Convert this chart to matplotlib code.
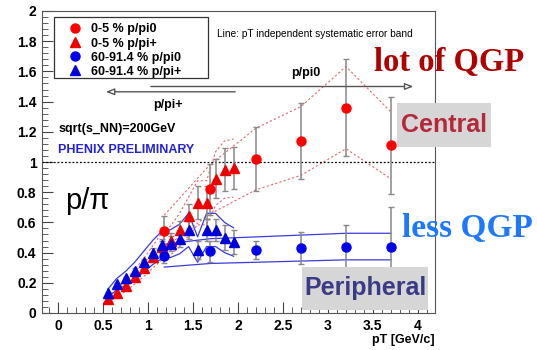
import numpy as np
import matplotlib
matplotlib.use("Agg")
import matplotlib.pyplot as plt
from matplotlib.patches import Rectangle
from matplotlib.ticker import MultipleLocator

plt.rcParams['font.family'] = ['Liberation Sans', 'DejaVu Sans']

# p/pi+ (triangles)
pt_tri = [0.55, 0.65, 0.75, 0.85, 0.95, 1.05, 1.15, 1.25, 1.35, 1.45, 1.55, 1.65, 1.75, 1.85, 1.95]
cen_tri = [0.09, 0.13, 0.18, 0.24, 0.30, 0.37, 0.44, 0.48, 0.55, 0.64, 0.73, 0.73, 0.89, 0.95, 0.96]
cen_tri_err = [0.01, 0.01, 0.01, 0.02, 0.02, 0.03, 0.04, 0.05, 0.06, 0.08, 0.11, 0.11, 0.13, 0.14, 0.14]
per_tri = [0.13, 0.19, 0.23, 0.28, 0.34, 0.40, 0.45, 0.46, 0.49, 0.55, 0.42, 0.55, 0.55, 0.50, 0.47]
per_tri_err = [0.01, 0.01, 0.01, 0.02, 0.02, 0.03, 0.04, 0.05, 0.05, 0.06, 0.06, 0.07, 0.07, 0.08, 0.08]

# p/pi0 (circles)
pt_cir = [1.18, 1.69, 2.2, 2.7, 3.2, 3.7]
cen_cir = [0.54, 0.82, 1.02, 1.14, 1.36, 1.11]
cen_cir_err = [0.10, 0.17, 0.21, 0.25, 0.32, 0.32]
per_cir = [0.38, 0.41, 0.42, 0.43, 0.44, 0.44]
per_cir_err = [0.05, 0.07, 0.06, 0.105, 0.14, 0.26]

x_ticks = [0, 0.5, 1, 1.5, 2, 2.5, 3, 3.5, 4]
y_ticks = [0, 0.2, 0.4, 0.6, 0.8, 1, 1.2, 1.4, 1.6, 1.8, 2]

sys_frac = 0.2  # pT independent systematic error

fig = plt.figure(figsize=(5.37, 3.5), dpi=100)
ax = fig.add_axes([42 / 537, 1 - 313 / 350, 393 / 537, 302 / 350])

# systematic bands
for x, y in [(pt_tri, cen_tri), (pt_cir, cen_cir)]:
    y = np.array(y)
    ax.plot(x, y * (1 + sys_frac), color="#e8646e", ls=(0, (2, 2)), lw=0.8)
    ax.plot(x, y * (1 - sys_frac), color="#e8646e", ls=(0, (2, 2)), lw=0.8)
for x, y in [(pt_tri, per_tri), (pt_cir, per_cir)]:
    y = np.array(y)
    ax.plot(x, y * (1 + sys_frac), color="#3b3bdd", lw=0.9)
    ax.plot(x, y * (1 - sys_frac), color="#3b3bdd", lw=0.9)

ax.axhline(1, color="k", ls=(0, (1.5, 1.5)), lw=0.9)

# error bars
for x, y, e in [(pt_tri, per_tri, per_tri_err), (pt_tri, cen_tri, cen_tri_err),
                (pt_cir, per_cir, per_cir_err), (pt_cir, cen_cir, cen_cir_err)]:
    ax.errorbar(x, y, yerr=e, fmt="none", ecolor="#888888", elinewidth=1.1, capsize=2.5)

ax.plot(pt_cir, cen_cir, "o", color="#ff0000", ms=6.5, label="0-5 % p/pi0")
ax.plot(pt_tri, cen_tri, "^", color="#ee0000", ms=6.5, label="0-5 % p/pi+")
ax.plot(pt_cir, per_cir, "o", color="#0000ee", ms=6.5, label="60-91.4 % p/pi0")
ax.plot(pt_tri, per_tri, "^", color="#0000dd", ms=6.5, label="60-91.4 % p/pi+")

ax.set_xlim(-0.18, 4.19)
ax.set_ylim(0, 2)
ax.set_xticks(x_ticks, [f"{v:g}" for v in x_ticks], fontweight="bold")
ax.set_yticks(y_ticks, [f"{v:g}" for v in y_ticks], fontweight="bold")
ax.xaxis.set_minor_locator(MultipleLocator(0.1))
ax.yaxis.set_minor_locator(MultipleLocator(0.04))
ax.tick_params(which="both", direction="in", color="#444444", labelsize=10, pad=4)
ax.tick_params(which="major", length=8)
ax.tick_params(which="minor", length=4)
for s in ax.spines.values():
    s.set_color("#555555")

# legend with its own frame box
ax.add_patch(Rectangle((0.0305, 0.778), 0.392, 0.202, transform=ax.transAxes,
                       fc="white", ec="#333333", lw=0.9, zorder=4))
leg = ax.legend(loc="upper left", bbox_to_anchor=(0.035, 0.99), frameon=False,
                handletextpad=0.5, labelspacing=0.17, borderpad=0.25, handlelength=1.6,
                prop={"weight": "bold", "size": 9})
leg.set_zorder(5)

ax.text(1.77, 1.85, "Line: pT independent systematic error band", fontsize=7.3, va="center")
ax.annotate("", xy=(3.98, 1.50), xytext=(1.0, 1.50),
            arrowprops=dict(arrowstyle="-|>,head_length=0.5,head_width=0.2", color="#555555",
                            fc="white", lw=1))
ax.annotate("", xy=(0.5, 1.465), xytext=(2.0, 1.465),
            arrowprops=dict(arrowstyle="-|>,head_length=0.5,head_width=0.2", color="#555555",
                            fc="white", lw=1))
ax.text(2.75, 1.59, "p/pi0", fontsize=9, fontweight="bold", ha="center", va="center")
ax.text(1.22, 1.38, "p/pi+", fontsize=9, fontweight="bold", ha="center", va="center")
ax.text(0.0, 1.22, "sqrt(s_NN)=200GeV", fontsize=9, fontweight="bold", va="center")
ax.text(0.0, 1.08, "PHENIX PRELIMINARY", fontsize=9, fontweight="bold", va="center", color="#2222dd")
ax.text(0.08, 0.74, "p/π", fontsize=21, va="center")
ax.text(4.19, -0.18, "pT [GeV/c]", fontsize=9, fontweight="bold", ha="right", va="center")

# annotations outside the frame
fig.patches.append(Rectangle((397 / 537, 1 - 147 / 350), 94 / 537, 44 / 350,
                             transform=fig.transFigure, fc="#d6d6d6", ec="none", zorder=3))
fig.patches.append(Rectangle((302 / 537, 1 - 310 / 350), 126 / 537, 43 / 350,
                             transform=fig.transFigure, fc="#d6d6d6", ec="none", zorder=3))
fig.text(444 / 537, 1 - 125 / 350, "Central", fontsize=18, fontweight="bold", color="#b3293a",
         ha="center", va="center", zorder=4)
fig.text(365 / 537, 1 - 288 / 350, "Peripheral", fontsize=18, fontweight="bold", color="#3b3b85",
         ha="center", va="center", zorder=4)
fig.text(449 / 537, 1 - 63 / 350, "lot of QGP", fontsize=23.5, fontweight="bold", color="#b00000",
         family="Liberation Serif", ha="center", va="center", zorder=4)
fig.text(467 / 537, 1 - 229 / 350, "less QGP", fontsize=24, fontweight="bold", color="#1e78ff",
         family="Liberation Serif", ha="center", va="center", zorder=4)

fig.savefig("out.png", dpi=100)
